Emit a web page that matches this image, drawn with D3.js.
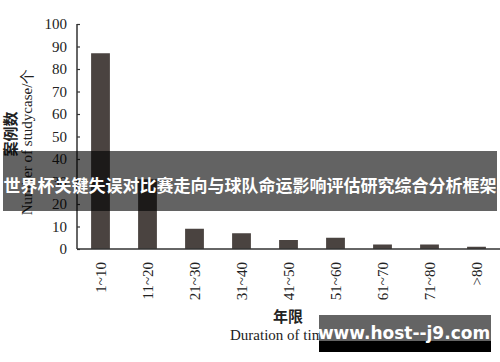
<!DOCTYPE html>
<html><head><meta charset="utf-8">
<script src="https://cdn.jsdelivr.net/npm/d3@7"></script>
<style>body{margin:0;background:#fff}svg{display:block}</style>
</head><body>
<script>
const categories = ["1~10","11~20","21~30","31~40","41~50","51~60","61~70","71~80",">80"];
const values = [87, 31, 9, 7, 4, 5, 2, 2, 1];
const yTicks = [0,10,20,30,40,50,60,70,80,90,100];
const bannerText = "世界杯关键失误对比赛走向与球队命运影响评估研究综合分析框架";
const watermarkText = "www.host--j9.com";

const W = 500, H = 362;
const svg = d3.select("body").append("svg").attr("width", W).attr("height", H);
const serif = "'Liberation Serif','Times New Roman',serif";

const x = d3.scaleBand().domain(categories).range([77, 500]).paddingInner(0.6).paddingOuter(0.3);
const y = d3.scaleLinear().domain([0, 100]).range([249, 24]);

svg.append("g").selectAll("rect").data(values).join("rect")
  .attr("x", (d,i) => x(categories[i]))
  .attr("width", x.bandwidth())
  .attr("y", d => y(d))
  .attr("height", d => y(0) - y(d))
  .attr("fill", "#4a4340");

// y axis
const yAxis = svg.append("g").attr("transform", "translate(77,0)")
  .call(d3.axisRight(y).tickValues(yTicks).tickSize(3).tickFormat(""));
yAxis.select(".domain").attr("stroke", "#333").attr("stroke-width", 1.5).attr("d", `M0,${y(100)}V${y(0)}`);
yAxis.selectAll(".tick line").attr("stroke", "#333").attr("stroke-width", 1.2);
svg.append("g").selectAll("text").data(yTicks).join("text")
  .attr("x", 67).attr("y", d => y(d) + 5)
  .attr("text-anchor", "end")
  .style("font-family", serif).style("font-size", "15px").attr("fill", "#222")
  .text(d => d);

// x axis
const xAxis = svg.append("g").attr("transform", `translate(0,${y(0)})`)
  .call(d3.axisBottom(x).tickSize(0).tickFormat(""));
xAxis.select(".domain").attr("stroke", "#333").attr("stroke-width", 1.5).attr("d", "M77,0H500");
svg.append("g").selectAll("text").data(categories).join("text")
  .attr("transform", d => `translate(${x(d) + x.bandwidth()/2 + 5},262) rotate(-90)`)
  .attr("text-anchor", "end")
  .style("font-family", serif).style("font-size", "15px").attr("fill", "#222")
  .text(d => d);

// axis titles
svg.append("text").attr("transform", "translate(16,134) rotate(-90)")
  .attr("text-anchor", "middle").style("font-family", "'Noto Sans CJK SC',sans-serif")
  .style("font-size", "15px").style("font-weight", "bold").attr("fill", "#222").text("案例数");
svg.append("text").attr("transform", "translate(32,142) rotate(-90)")
  .attr("text-anchor", "middle").style("font-family", serif)
  .style("font-size", "15px").attr("fill", "#222").text("Number of studycase/个");
svg.append("text").attr("x", 288).attr("y", 322)
  .attr("text-anchor", "middle").style("font-family", "'Noto Sans CJK SC',sans-serif")
  .style("font-size", "15px").style("font-weight", "bold").attr("fill", "#222").text("年限");
svg.append("text").attr("x", 230).attr("y", 340)
  .attr("text-anchor", "start").style("font-family", serif)
  .style("font-size", "15px").attr("fill", "#222").text("Duration of time/a");

// banner overlay
svg.append("rect").attr("x", 3).attr("y", 151).attr("width", 494).attr("height", 60)
  .attr("fill", "rgba(0,0,0,0.61)");
svg.append("text").attr("x", 250).attr("y", 192).attr("text-anchor", "middle")
  .style("font-family", "'Noto Sans CJK SC',sans-serif").style("font-size", "17px")
  .style("font-weight", "bold").attr("fill", "#fff").text(bannerText);

// watermark
svg.append("rect").attr("x", 319).attr("y", 315).attr("width", 172).attr("height", 26)
  .attr("fill", "#646464");
svg.append("rect").attr("x", 319).attr("y", 341).attr("width", 172).attr("height", 11)
  .attr("fill", "#000");
svg.append("text").attr("x", 404).attr("y", 339).attr("text-anchor", "middle")
  .style("font-family", "'DejaVu Sans',sans-serif").style("font-size", "17px")
  .style("font-weight", "bold").attr("fill", "#fff").text(watermarkText);
</script>
</body></html>
